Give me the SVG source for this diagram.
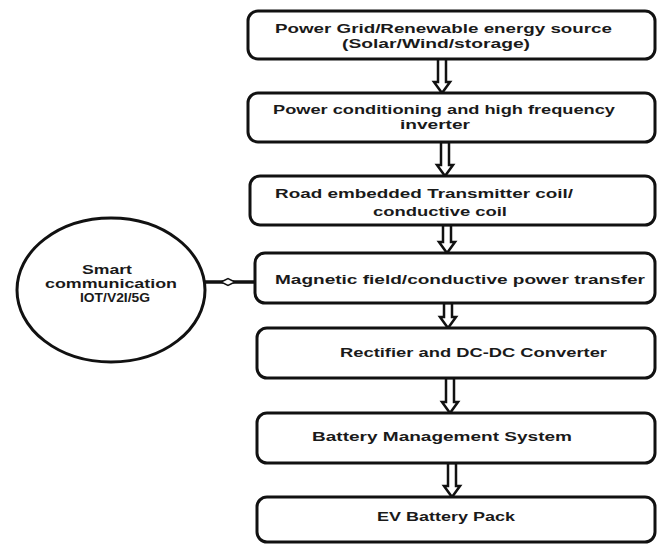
<svg xmlns="http://www.w3.org/2000/svg" width="658" height="545" viewBox="0 0 658 545">
<style>
.box{fill:#fff;stroke:#111;stroke-width:3}
.arr{fill:#fff;stroke:#111;stroke-width:2.5;stroke-linejoin:miter}
.lbl{font-family:"Liberation Sans",Arial,sans-serif;font-weight:700;font-size:12px;fill:#1a1a1a}
.ctr{text-anchor:middle}
</style>
<rect width="658" height="545" fill="#fff"/>
<g id="connectors">
<polygon class="arr" points="438,58 446,58 446,82 450,82 442,93 434,82 438,82"/>
<polygon class="arr" points="441,142 449,142 449,165 453,165 445,176 437,165 441,165"/>
<polygon class="arr" points="443,225 451,225 451,242 455,242 447,253 439,242 443,242"/>
<polygon class="arr" points="444,303 452,303 452,317 456,317 448,328 440,317 444,317"/>
<polygon class="arr" points="446,378 454,378 454,402 458,402 450,413 442,402 446,402"/>
<polygon class="arr" points="448,463 456,463 456,486 460,486 452,497 444,486 448,486"/>
<line x1="205" y1="282" x2="255" y2="282" stroke="#111" stroke-width="3.5"/>
<polygon points="221,282 228,278.5 235,282 228,285.5" fill="#fff" stroke="#111" stroke-width="1.5"/>
</g>
<g id="n1">
<rect class="box" x="248" y="11" width="407" height="48" rx="10"/>
<text class="lbl" x="275" y="33.3" textLength="337" lengthAdjust="spacingAndGlyphs">Power Grid/Renewable energy source</text>
<text class="lbl" x="342" y="48.3" textLength="188" lengthAdjust="spacingAndGlyphs">(Solar/Wind/storage)</text>
</g>
<g id="n2">
<rect class="box" x="248" y="93" width="407" height="49" rx="10"/>
<text class="lbl" x="273" y="114.3" textLength="342" lengthAdjust="spacingAndGlyphs">Power conditioning and high frequency</text>
<text class="lbl" x="400" y="129.3" textLength="70" lengthAdjust="spacingAndGlyphs">inverter</text>
</g>
<g id="n3">
<rect class="box" x="250" y="176" width="405" height="49" rx="10"/>
<text class="lbl" x="275" y="198.3" textLength="298" lengthAdjust="spacingAndGlyphs">Road embedded Transmitter coil/</text>
<text class="lbl" x="373" y="216.3" textLength="134" lengthAdjust="spacingAndGlyphs">conductive coil</text>
</g>
<g id="n4">
<rect class="box" x="255" y="253" width="400" height="50" rx="10"/>
<text class="lbl" x="275" y="284.3" textLength="370" lengthAdjust="spacingAndGlyphs">Magnetic field/conductive power transfer</text>
</g>
<g id="n5">
<rect class="box" x="257" y="328" width="398" height="50" rx="10"/>
<text class="lbl" x="340" y="357.3" textLength="267" lengthAdjust="spacingAndGlyphs">Rectifier and DC-DC Converter</text>
</g>
<g id="n6">
<rect class="box" x="257" y="413" width="398" height="50" rx="10"/>
<text class="lbl" x="312" y="441.3" textLength="260" lengthAdjust="spacingAndGlyphs">Battery Management System</text>
</g>
<g id="n7">
<rect class="box" x="257" y="497" width="398" height="45" rx="10"/>
<text class="lbl" x="377" y="521.3" textLength="138" lengthAdjust="spacingAndGlyphs">EV Battery Pack</text>
</g>
<g id="smart">
<ellipse class="box" cx="111" cy="290" rx="94" ry="72"/>
<text class="lbl ctr" x="107" y="274.3" textLength="50" lengthAdjust="spacingAndGlyphs">Smart</text>
<text class="lbl ctr" x="111" y="288.3" textLength="132" lengthAdjust="spacingAndGlyphs">communication</text>
<text class="lbl ctr" x="115" y="302.3" textLength="70" lengthAdjust="spacingAndGlyphs">IOT/V2I/5G</text>
</g>
</svg>
